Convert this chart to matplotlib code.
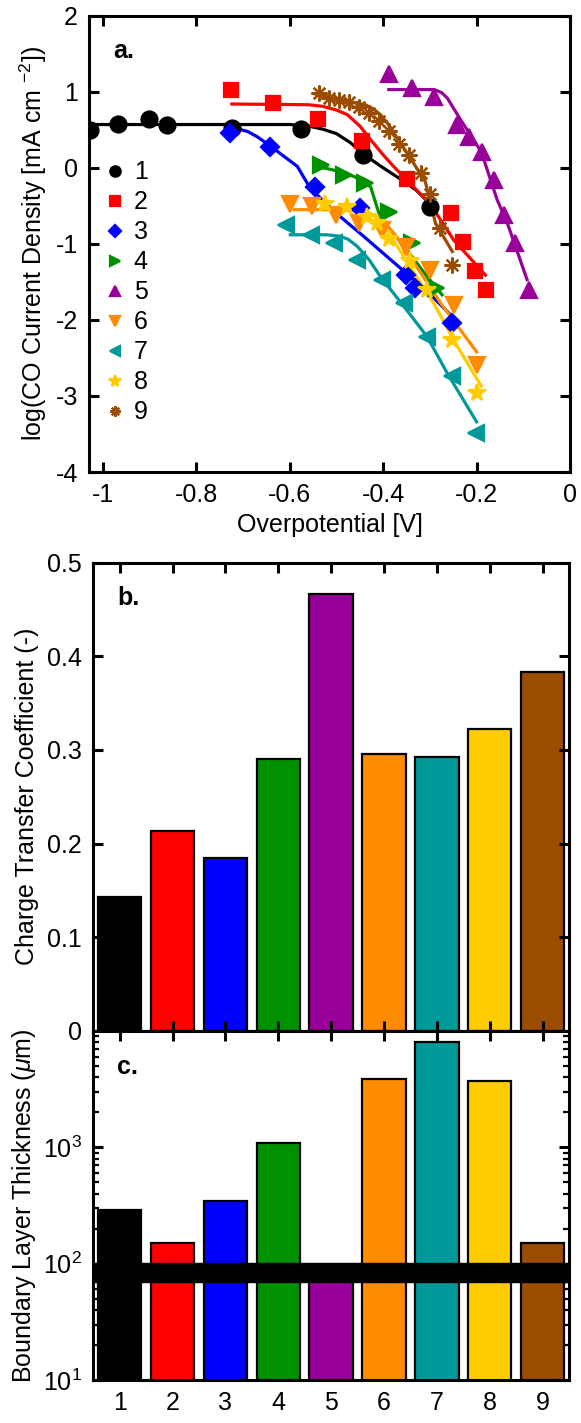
import numpy as np
import matplotlib
matplotlib.use("Agg")
import matplotlib.pyplot as plt
from matplotlib.ticker import FuncFormatter, LogLocator, NullFormatter

plt.rcParams['font.family'] = ['Liberation Sans', 'DejaVu Sans']
plt.rcParams['mathtext.fontset'] = 'custom'
plt.rcParams['mathtext.rm'] = 'Liberation Sans'
plt.rcParams['mathtext.it'] = 'Liberation Sans:italic'
plt.rcParams['axes.unicode_minus'] = False

# sample names / colours
labels = ['1', '2', '3', '4', '5', '6', '7', '8', '9']
colors = ['#000000', '#ff0000', '#0000ff', '#009100', '#990099',
          '#ff8c00', '#009999', '#ffcc00', '#9a4c00']
markers = ['o', 's', 'D', '>', '^', 'v', '<', '*', (8, 2, 0)]

# panel a: measured points (overpotential [V], log j)
pts_x = [
    [-1.027, -0.967, -0.902, -0.864, -0.724, -0.577, -0.443, -0.299],
    [-0.727, -0.636, -0.540, -0.445, -0.349, -0.254, -0.229, -0.204, -0.179],
    [-0.729, -0.643, -0.547, -0.449, -0.352, -0.333, -0.252],
    [-0.534, -0.484, -0.438, -0.388, -0.338, -0.288],
    [-0.388, -0.338, -0.291, -0.241, -0.217, -0.188, -0.163, -0.142, -0.117, -0.088],
    [-0.599, -0.552, -0.502, -0.452, -0.402, -0.352, -0.299, -0.249, -0.200],
    [-0.609, -0.555, -0.506, -0.456, -0.402, -0.356, -0.306, -0.252, -0.202],
    [-0.524, -0.477, -0.434, -0.413, -0.388, -0.342, -0.306, -0.252, -0.200],
    [-0.538, -0.517, -0.495, -0.474, -0.452, -0.431, -0.409, -0.388, -0.367,
     -0.345, -0.320, -0.299, -0.279, -0.252],
]
pts_y = [
    [0.50, 0.58, 0.64, 0.57, 0.53, 0.51, 0.17, -0.51],
    [1.02, 0.85, 0.64, 0.35, -0.14, -0.59, -0.97, -1.36, -1.60],
    [0.46, 0.28, -0.25, -0.53, -1.41, -1.58, -2.04],
    [0.04, -0.09, -0.20, -0.58, -0.99, -1.58],
    [1.24, 1.05, 0.93, 0.56, 0.41, 0.21, -0.16, -0.62, -0.99, -1.61],
    [-0.47, -0.50, -0.62, -0.73, -0.82, -1.04, -1.34, -1.80, -2.59],
    [-0.75, -0.88, -0.99, -1.21, -1.47, -1.78, -2.22, -2.74, -3.49],
    [-0.47, -0.51, -0.64, -0.73, -0.93, -1.23, -1.60, -2.27, -2.96],
    [0.98, 0.92, 0.89, 0.86, 0.80, 0.72, 0.61, 0.48, 0.32, 0.17, -0.07,
     -0.35, -0.79, -1.28],
]

# panel a: fitted curves
fit_x = [
    [-1.03, -0.60, -0.56, -0.53, -0.50, -0.47, -0.44, -0.40, -0.36, -0.33, -0.30],
    [-0.724, -0.560, -0.530, -0.500, -0.477, -0.450, -0.427, -0.400, -0.378,
     -0.335, -0.300, -0.249, -0.181],
    [-0.729, -0.710, -0.691, -0.670, -0.649, -0.584, -0.556, -0.500, -0.442,
     -0.363, -0.300, -0.245],
    [-0.549, -0.520, -0.492, -0.460, -0.427, -0.406, -0.363, -0.306, -0.274],
    [-0.388, -0.291, -0.275, -0.263, -0.234, -0.190, -0.156, -0.134, -0.092],
    [-0.590, -0.477, -0.450, -0.420, -0.400, -0.377, -0.334, -0.277, -0.200],
    [-0.599, -0.520, -0.492, -0.475, -0.456, -0.430, -0.406, -0.356, -0.306,
     -0.263, -0.200],
    [-0.534, -0.460, -0.442, -0.420, -0.392, -0.342, -0.292, -0.241, -0.190],
    [-0.545, -0.500, -0.470, -0.438, -0.420, -0.406, -0.390, -0.374, -0.342,
     -0.310, -0.288, -0.252],
]
fit_y = [
    [0.57, 0.57, 0.55, 0.51, 0.45, 0.33, 0.17, 0.00, -0.16, -0.29, -0.47],
    [0.84, 0.83, 0.81, 0.76, 0.70, 0.55, 0.37, 0.17, 0.02, -0.25, -0.47,
     -0.95, -1.41],
    [0.52, 0.51, 0.48, 0.41, 0.32, 0.02, -0.27, -0.60, -0.90, -1.32, -1.66,
     -2.00],
    [0.02, -0.01, -0.05, -0.12, -0.25, -0.66, -0.97, -1.43, -1.67],
    [1.03, 1.03, 0.99, 0.92, 0.63, 0.21, -0.42, -0.73, -1.47],
    [-0.55, -0.55, -0.57, -0.62, -0.71, -0.86, -1.25, -1.78, -2.42],
    [-0.88, -0.88, -0.90, -0.94, -1.03, -1.21, -1.43, -1.82, -2.22, -2.70,
     -3.34],
    [-0.53, -0.54, -0.56, -0.63, -0.82, -1.30, -1.78, -2.35, -2.87],
    [0.97, 0.91, 0.87, 0.83, 0.77, 0.70, 0.58, 0.43, 0.13, -0.18, -0.73,
     -1.10],
]

# panel b / c values
alpha = [0.143, 0.213, 0.185, 0.290, 0.466, 0.296, 0.292, 0.322, 0.383]
thickness = [288, 150, 345, 1100, 85, 3900, 8100, 3700, 150]
band_lo, band_hi = 69, 101

fs = 18
fig = plt.figure(figsize=(5.81, 14.23), dpi=100)
axa = fig.add_axes([0.1532, 0.6683, 0.8279, 0.3206])
axb = fig.add_axes([0.1606, 0.2755, 0.8188, 0.3291])
axc = fig.add_axes([0.1606, 0.0302, 0.8188, 0.2453])

def style(ax):
    for s in ax.spines.values():
        s.set_linewidth(2.2)
    ax.tick_params(which='major', direction='in', length=7, width=2.2,
                   top=True, right=True, labelsize=fs, pad=8)
    ax.tick_params(which='minor', direction='in', length=4, width=1.6,
                   top=False, right=True)

def fmt(v, p):
    return '%g' % (round(v, 1) + 0.0)

# ---- panel a
for i in range(9):
    ms = 13 if markers[i] == '*' else 11.5
    if markers[i] == 's':
        ms = 10.5
    if markers[i] == 'D':
        ms = 9.5
    axa.plot(fit_x[i], fit_y[i], '-', color=colors[i], lw=2.3, zorder=2)
    axa.plot(pts_x[i], pts_y[i], linestyle='none', marker=markers[i],
             color=colors[i], markersize=ms, mew=1.6, label=labels[i], zorder=3)
axa.set_xlim(-1.03, 0)
axa.set_ylim(-4, 2)
axa.set_xticks(np.arange(-1, 0.01, 0.2))
axa.set_yticks(np.arange(-4, 2.1, 1))
axa.xaxis.set_major_formatter(FuncFormatter(fmt))
axa.yaxis.set_major_formatter(FuncFormatter(fmt))
style(axa)
axa.set_xlabel('Overpotential [V]', fontsize=fs, labelpad=4)
axa.set_ylabel('log(CO Current Density [mA cm $^{-2}$])', fontsize=fs, labelpad=5)
axa.text(0.05, 0.95, 'a.', transform=axa.transAxes, fontsize=fs,
         fontweight='bold', va='top')
axa.legend(loc='upper left', bbox_to_anchor=(0.01, 0.705), frameon=False,
           fontsize=fs, markerscale=0.65, handlelength=0.9, handletextpad=0.3,
           labelspacing=0.24, borderaxespad=0)

# ---- panel b
pos = np.arange(1, 10)
axb.bar(pos, alpha, width=0.82, color=colors, edgecolor='black', lw=1.6)
axb.set_xlim(0.5, 9.5)
axb.set_ylim(0, 0.5)
axb.set_xticks(pos)
axb.set_yticks(np.arange(0, 0.51, 0.1))
axb.yaxis.set_major_formatter(FuncFormatter(fmt))
style(axb)
axb.tick_params(labelbottom=False)
axb.set_ylabel('Charge Transfer Coefficient (-)', fontsize=fs, labelpad=6)
axb.text(0.05, 0.95, 'b.', transform=axb.transAxes, fontsize=fs,
         fontweight='bold', va='top')

# ---- panel c
axc.bar(pos, thickness, width=0.82, color=colors, edgecolor='black', lw=1.6,
        zorder=2)
axc.axhspan(band_lo, band_hi, color='black', zorder=3)
axc.set_yscale('log')
axc.set_xlim(0.5, 9.5)
axc.set_ylim(10, 1e4)
axc.set_xticks(pos)
axc.set_xticklabels(labels)
axc.set_yticks([10, 100, 1000])
axc.yaxis.set_minor_locator(LogLocator(base=10, subs=np.arange(2, 10)))
axc.yaxis.set_minor_formatter(NullFormatter())
style(axc)
axc.set_ylabel(r'Boundary Layer Thickness ($\mu$m)', fontsize=fs, labelpad=4)
axc.text(0.05, 0.93, 'c.', transform=axc.transAxes, fontsize=fs,
         fontweight='bold', va='top')

fig.savefig('out.png', dpi=100)
